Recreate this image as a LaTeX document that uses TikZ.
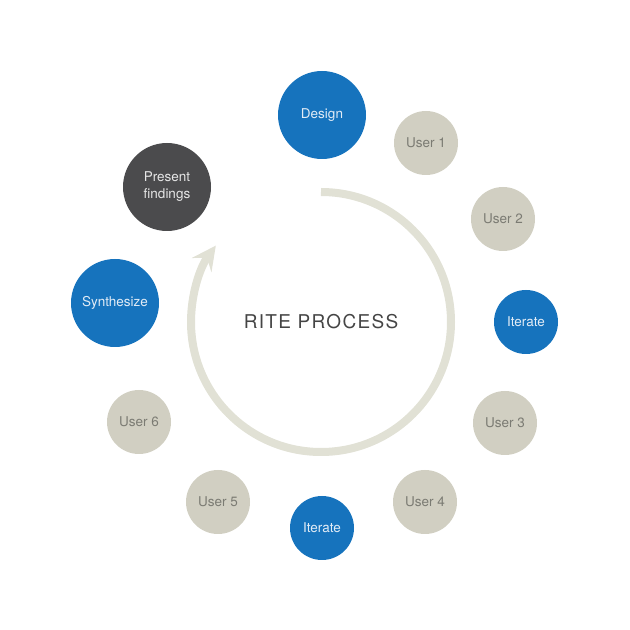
\documentclass[tikz,border=0pt]{standalone}
\usepackage{fontspec}
\setmainfont{TeX Gyre Heros}
\usetikzlibrary{arrows.meta}
\definecolor{ritblue}{HTML}{1673BD}
\definecolor{ritgray}{HTML}{D1CFC2}
\definecolor{ritdark}{HTML}{4B4B4D}
\definecolor{ritarc}{HTML}{E1E1D5}
\definecolor{grtext}{HTML}{7B7B73}
\definecolor{bltext}{HTML}{E2ECF6}
\definecolor{dktext}{HTML}{E6E6E6}
\definecolor{titletext}{HTML}{454545}
\tikzset{
  bigblue/.style={circle, fill=ritblue, minimum size=88pt, inner sep=0pt, text=bltext, font=\fontsize{13.5}{17}\selectfont, align=center},
  smallblue/.style={circle, fill=ritblue, minimum size=64pt, inner sep=0pt, text=bltext, font=\fontsize{13.5}{17}\selectfont, align=center},
  usercirc/.style={circle, fill=ritgray, minimum size=64pt, inner sep=0pt, text=grtext, font=\fontsize{13.5}{17}\selectfont, align=center},
  darkcirc/.style={circle, fill=ritdark, minimum size=88pt, inner sep=0pt, text=dktext, font=\fontsize{13.5}{17}\selectfont, align=center},
  cyclearc/.style={draw=ritarc, line width=8pt, -{Stealth[length=24pt, width=24pt, inset=9pt]}}
}
\begin{document}
\begin{tikzpicture}[x=1pt,y=1pt]
\useasboundingbox (0,0) rectangle (630,630);
\coordinate (c) at (321,308);
\draw[cyclearc] ([shift={(90:130)}]c) arc[start angle=90, end angle=-216, radius=130];
\node[bigblue] (design) at (322,515) {Design};
\node[usercirc] (u1) at (426,487) {User 1};
\node[usercirc] (u2) at (503,411) {User 2};
\node[smallblue] (it1) at (526,308) {Iterate};
\node[usercirc] (u3) at (505,207) {User 3};
\node[usercirc] (u4) at (425,128) {User 4};
\node[smallblue] (it2) at (322,102) {Iterate};
\node[usercirc] (u5) at (218,128) {User 5};
\node[usercirc] (u6) at (139,208) {User 6};
\node[bigblue] (synth) at (115,327) {Synthesize};
\node[darkcirc] (present) at (167,443) {Present\\findings};
\node[text=titletext, font=\fontsize{19}{22}\selectfont\addfontfeature{LetterSpace=7}] (title) at (321,308) {RITE PROCESS};
\end{tikzpicture}
\end{document}
